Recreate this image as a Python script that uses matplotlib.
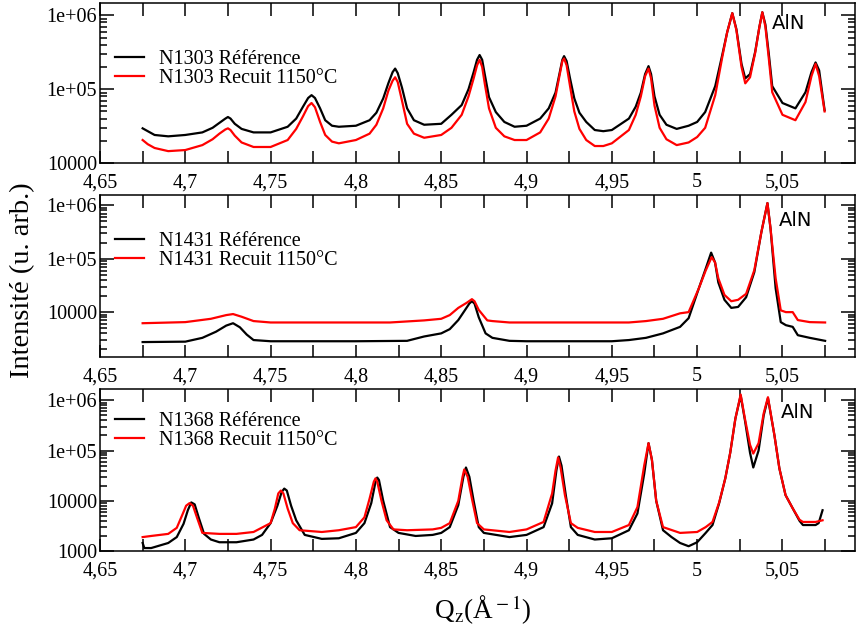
import numpy as np
import matplotlib
matplotlib.use("Agg")
import matplotlib.pyplot as plt
from matplotlib.ticker import FixedLocator, MultipleLocator, FuncFormatter, LogLocator, NullFormatter

plt.rcParams['font.family'] = ['Liberation Serif', 'DejaVu Serif']
plt.rcParams['mathtext.fontset'] = 'stix'

# --- N1303 (top panel) ---
q_1303 = [4.675, 4.678, 4.682, 4.69, 4.70, 4.71, 4.716, 4.72, 4.7235, 4.725, 4.7265, 4.729, 4.733, 4.74, 4.75,
          4.76, 4.765, 4.769, 4.772, 4.774, 4.776, 4.779, 4.782, 4.786, 4.79, 4.80, 4.808, 4.812, 4.816, 4.819,
          4.8215, 4.823, 4.8245, 4.827, 4.83, 4.834, 4.84, 4.85, 4.856, 4.862, 4.866, 4.869, 4.871, 4.8725, 4.874,
          4.8755, 4.878, 4.882, 4.887, 4.893, 4.90, 4.908, 4.913, 4.917, 4.9195, 4.921, 4.922, 4.9235, 4.9255,
          4.928, 4.931, 4.935, 4.94, 4.945, 4.95, 4.96, 4.964, 4.967, 4.9695, 4.9715, 4.973, 4.975, 4.978, 4.982,
          4.988, 4.995, 5.00, 5.0047, 5.0106, 5.0147, 5.0176, 5.0206, 5.023, 5.026, 5.0282, 5.031, 5.034, 5.0365,
          5.0382, 5.040, 5.042, 5.044, 5.05, 5.0576, 5.0635, 5.067, 5.0694, 5.0715, 5.0747]
i_1303_ref = [2.95e4, 2.7e4, 2.4e4, 2.3e4, 2.4e4, 2.6e4, 3.0e4, 3.5e4, 4.0e4, 4.2e4, 4.0e4, 3.4e4, 2.9e4, 2.6e4, 2.6e4,
              3.1e4, 4.0e4, 5.8e4, 7.6e4, 8.3e4, 7.6e4, 5.5e4, 3.8e4, 3.2e4, 3.1e4, 3.2e4, 3.8e4, 4.8e4, 7.5e4, 1.2e5,
              1.7e5, 1.9e5, 1.65e5, 1.05e5, 5.5e4, 3.8e4, 3.3e4, 3.4e4, 4.5e4, 6.1e4, 1.0e5, 1.7e5, 2.5e5, 2.9e5, 2.5e5,
              1.6e5, 7.8e4, 4.9e4, 3.6e4, 3.1e4, 3.2e4, 4.0e4, 5.5e4, 9.0e4, 1.7e5, 2.5e5, 2.8e5, 2.4e5, 1.4e5,
              7.5e4, 4.8e4, 3.6e4, 2.8e4, 2.7e4, 2.8e4, 4.0e4, 5.8e4, 9.0e4, 1.6e5, 2.05e5, 1.6e5, 8.0e4, 4.5e4, 3.3e4,
              2.9e4, 3.2e4, 3.6e4, 4.9e4, 1.1e5, 2.9e5, 5.9e5, 1.07e6, 6.5e5, 2.2e5, 1.4e5, 1.6e5, 3.2e5, 7.0e5,
              1.1e6, 7.5e5, 3.0e5, 1.1e5, 6.5e4, 5.5e4, 9.1e4, 1.7e5, 2.3e5, 1.8e5, 5.2e4]
i_1303_rec = [2.05e4, 1.8e4, 1.6e4, 1.45e4, 1.5e4, 1.75e4, 2.1e4, 2.5e4, 2.85e4, 2.95e4, 2.8e4, 2.35e4, 1.9e4, 1.65e4, 1.65e4,
              2.05e4, 2.9e4, 4.3e4, 5.9e4, 6.5e4, 5.7e4, 3.6e4, 2.4e4, 1.95e4, 1.85e4, 2.05e4, 2.5e4, 3.3e4, 5.5e4, 9.5e4,
              1.3e5, 1.45e5, 1.25e5, 7.0e4, 3.4e4, 2.5e4, 2.2e4, 2.4e4, 3.0e4, 4.5e4, 8.0e4, 1.4e5, 2.1e5, 2.5e5, 2.0e5,
              1.2e5, 5.5e4, 3.0e4, 2.3e4, 2.05e4, 2.05e4, 2.6e4, 4.0e4, 8.0e4, 1.6e5, 2.4e5, 2.6e5, 2.1e5, 1.1e5,
              5.0e4, 2.9e4, 2.05e4, 1.7e4, 1.7e4, 1.85e4, 2.8e4, 4.5e4, 8.0e4, 1.5e5, 1.9e5, 1.4e5, 6.0e4, 3.0e4, 2.1e4,
              1.75e4, 1.9e4, 2.25e4, 3.0e4, 8.3e4, 2.7e5, 5.9e5, 1.07e6, 6.3e5, 2.0e5, 1.2e5, 1.45e5, 3.1e5, 7.0e5,
              1.1e6, 7.0e5, 2.6e5, 9.1e4, 4.5e4, 3.8e4, 6.7e4, 1.5e5, 2.2e5, 1.5e5, 5.0e4]

# --- N1431 (middle panel) ---
q_1431_ref = [4.675, 4.70, 4.71, 4.718, 4.724, 4.728, 4.732, 4.736, 4.74, 4.75, 4.80, 4.83, 4.84, 4.85, 4.855, 4.86,
              4.864, 4.8665, 4.868, 4.8695, 4.872, 4.876, 4.88, 4.89, 4.90, 4.95, 4.96, 4.97, 4.98, 4.99, 4.995,
              5.001, 5.005, 5.0082, 5.0105, 5.0124, 5.016, 5.020, 5.024, 5.0287, 5.0335, 5.0376, 5.0412, 5.043,
              5.046, 5.049, 5.052, 5.056, 5.059, 5.066, 5.075]
i_1431_ref = [2.75e3, 2.8e3, 3.3e3, 4.3e3, 5.6e3, 6.2e3, 5.2e3, 3.8e3, 3.0e3, 2.85e3, 2.85e3, 2.9e3, 3.5e3, 4.0e3, 4.8e3, 7.1e3,
              1.1e4, 1.45e4, 1.6e4, 1.45e4, 8.0e3, 4.0e3, 3.3e3, 2.9e3, 2.85e3, 2.85e3, 3.0e3, 3.3e3, 4.0e3, 5.3e3, 7.7e3,
              2.8e4, 6.5e4, 1.3e5, 8.5e4, 3.6e4, 1.7e4, 1.2e4, 1.25e4, 1.9e4, 5.6e4, 3.1e5, 1.1e6, 3.7e5,
              2.8e4, 6.5e3, 5.7e3, 5.3e3, 3.7e3, 3.3e3, 2.9e3]
q_1431_rec = [4.675, 4.70, 4.715, 4.724, 4.728, 4.733, 4.74, 4.75, 4.82, 4.84, 4.85, 4.855, 4.86, 4.865, 4.868, 4.8695,
              4.872, 4.877, 4.88, 4.89, 4.96, 4.97, 4.98, 4.99, 4.995, 5.001, 5.005, 5.0085, 5.0105, 5.0124, 5.016,
              5.020, 5.024, 5.0287, 5.0335, 5.0376, 5.0412, 5.043, 5.046, 5.049, 5.052, 5.056, 5.059, 5.066, 5.075]
i_1431_rec = [6.2e3, 6.5e3, 7.5e3, 8.8e3, 9.2e3, 8.2e3, 6.8e3, 6.4e3, 6.4e3, 7.0e3, 7.5e3, 8.8e3, 1.2e4, 1.5e4, 1.75e4, 1.6e4,
              1.1e4, 7.0e3, 6.8e3, 6.4e3, 6.4e3, 6.8e3, 7.5e3, 9.5e3, 1.0e4, 2.8e4, 6.0e4, 1.07e5, 8.5e4, 4.3e4, 2.1e4,
              1.6e4, 1.7e4, 2.2e4, 6.1e4, 3.1e5, 1.1e6, 3.7e5, 4.3e4, 1.08e4, 1.0e4, 1.0e4, 7.1e3, 6.5e3, 6.4e3]

# --- N1368 (bottom panel) ---
q_1368_ref = [4.675, 4.676, 4.68, 4.69, 4.695, 4.699, 4.7015, 4.7035, 4.7055, 4.708, 4.711, 4.715, 4.72, 4.73, 4.74,
              4.745, 4.75, 4.754, 4.7565, 4.758, 4.7595, 4.762, 4.765, 4.77, 4.78, 4.79, 4.80, 4.805, 4.809, 4.8115,
              4.8125, 4.8135, 4.816, 4.82, 4.825, 4.835, 4.845, 4.85, 4.855, 4.86, 4.863, 4.8645, 4.8665, 4.869,
              4.872, 4.875, 4.89, 4.90, 4.91, 4.915, 4.9175, 4.919, 4.9205, 4.923, 4.926, 4.93, 4.94, 4.95, 4.96,
              4.965, 4.969, 4.9715, 4.9735, 4.976, 4.98, 4.985, 4.99, 4.995, 5.00, 5.005, 5.009, 5.0129, 5.0165,
              5.0194, 5.0224, 5.0255, 5.028, 5.031, 5.0329, 5.036, 5.039, 5.0415, 5.0453, 5.0482, 5.0518, 5.056,
              5.060, 5.062, 5.0694, 5.0712, 5.0735]
i_1368_ref = [1.45e3, 1.15e3, 1.15e3, 1.45e3, 1.9e3, 3.5e3, 6.5e3, 9.3e3, 8.5e3, 4.5e3, 2.2e3, 1.7e3, 1.5e3, 1.5e3, 1.7e3,
              2.1e3, 3.6e3, 8.0e3, 1.5e4, 1.75e4, 1.6e4, 8.0e3, 4.1e3, 2.1e3, 1.75e3, 1.8e3, 2.3e3, 3.6e3, 9.0e3, 2.4e4,
              2.9e4, 2.6e4, 1.0e4, 3.0e3, 2.3e3, 2.0e3, 2.1e3, 2.3e3, 3.0e3, 8.2e3, 3.0e4, 4.6e4, 3.0e4, 1.0e4,
              3.0e3, 2.3e3, 1.9e3, 2.1e3, 3.0e3, 8.9e3, 4.0e4, 7.6e4, 5.0e4, 1.3e4, 3.0e3, 2.1e3, 1.7e3, 1.8e3, 2.6e3,
              5.6e3, 3.5e4, 1.4e5, 6.5e4, 1.0e4, 2.6e3, 1.9e3, 1.45e3, 1.25e3, 1.5e3, 2.3e3, 3.3e3, 9.0e3, 2.8e4,
              9.1e4, 4.3e5, 1.24e6, 4.0e5, 9.0e4, 4.6e4, 1.0e5, 5.0e5, 1.1e6, 2.0e5, 4.4e4, 1.3e4, 7.1e3,
              4.0e3, 3.3e3, 3.3e3, 3.6e3, 6.5e3]
q_1368_rec = [4.675, 4.68, 4.69, 4.695, 4.6985, 4.7005, 4.7025, 4.7045, 4.707, 4.71, 4.72, 4.73, 4.74, 4.75, 4.7525,
              4.7545, 4.756, 4.7575, 4.76, 4.763, 4.767, 4.78, 4.79, 4.80, 4.805, 4.808, 4.8105, 4.8115, 4.8125, 4.815,
              4.818, 4.822, 4.83, 4.845, 4.85, 4.855, 4.86, 4.8625, 4.8635, 4.8655, 4.868, 4.871, 4.875, 4.89, 4.90,
              4.91, 4.915, 4.917, 4.9185, 4.92, 4.9225, 4.926, 4.93, 4.94, 4.95, 4.96, 4.965, 4.969, 4.9715, 4.9735,
              4.976, 4.98, 4.99, 5.00, 5.005, 5.009, 5.0129, 5.0165, 5.0194, 5.0224, 5.0255, 5.028, 5.031, 5.0329,
              5.036, 5.039, 5.0415, 5.0453, 5.0482, 5.0518, 5.056, 5.060, 5.062, 5.0694, 5.0735]
i_1368_rec = [1.9e3, 2.0e3, 2.2e3, 2.9e3, 5.5e3, 8.0e3, 9.0e3, 8.0e3, 4.5e3, 2.3e3, 2.2e3, 2.2e3, 2.4e3, 3.6e3, 7.0e3,
              1.4e4, 1.6e4, 1.4e4, 7.0e3, 3.6e3, 2.6e3, 2.4e3, 2.6e3, 3.0e3, 4.7e3, 1.1e4, 2.4e4, 2.8e4, 2.4e4, 1.0e4,
              4.1e3, 2.7e3, 2.6e3, 2.7e3, 2.9e3, 3.6e3, 1.0e4, 3.0e4, 4.2e4, 3.0e4, 1.1e4, 3.6e3, 2.7e3, 2.4e3, 2.7e3,
              3.8e3, 1.4e4, 4.0e4, 7.3e4, 4.5e4, 1.3e4, 3.6e3, 2.9e3, 2.4e3, 2.4e3, 3.3e3, 7.5e3, 5.1e4, 1.4e5, 6.5e4,
              1.0e4, 3.0e3, 2.3e3, 2.4e3, 3.0e3, 3.8e3, 9.3e3, 2.8e4, 9.1e4, 4.3e5, 1.3e6, 4.3e5, 1.3e5, 8.7e4,
              1.4e5, 5.5e5, 1.15e6, 2.0e5, 4.4e4, 1.3e4, 7.1e3, 4.2e3, 3.8e3, 3.8e3, 4.1e3]

panels = [
    ('N1303', q_1303, i_1303_ref, q_1303, i_1303_rec, (1e4, 1.46e6),
     [1e4, 1e5, 1e6], ['10000', '1e+05', '1e+06']),
    ('N1431', q_1431_ref, i_1431_ref, q_1431_rec, i_1431_rec, (1.44e3, 1.54e6),
     [1e4, 1e5, 1e6], ['10000', '1e+05', '1e+06']),
    ('N1368', q_1368_ref, i_1368_ref, q_1368_rec, i_1368_rec, (1e3, 1.65e6),
     [1e3, 1e4, 1e5, 1e6], ['1000', '10000', '1e+05', '1e+06']),
]
boxes = [[0.1168, 0.742, 0.882, 0.253],
         [0.1168, 0.435, 0.882, 0.256],
         [0.1168, 0.128, 0.882, 0.256]]
legend_y = [0.706, 0.772, 0.858]
aln_pos = [(0.890, 0.875), (0.899, 0.846), (0.902, 0.858)]

fig = plt.figure(figsize=(8.56, 6.32), dpi=100)
comma = FuncFormatter(lambda v, p: '{:g}'.format(round(v, 3)).replace('.', ','))

for k, ((name, qa, ia, qb, ib, ylim, yt, ylab), box) in enumerate(zip(panels, boxes)):
    ax = fig.add_axes(box)
    ax.plot(qa, ia, color='black', lw=1.6, label=name + ' Référence')
    ax.plot(qb, ib, color='#ff0000', lw=1.6, label=name + ' Recuit 1150°C')
    ax.set_yscale('log')
    ax.set_xlim(4.65, 5.0925)
    ax.set_ylim(*ylim)
    ax.yaxis.set_major_locator(FixedLocator(yt))
    ax.set_yticklabels(ylab)
    ax.yaxis.set_minor_locator(LogLocator(base=10, subs=np.arange(2, 10)))
    ax.yaxis.set_minor_formatter(NullFormatter())
    ax.xaxis.set_major_locator(MultipleLocator(0.05))
    ax.xaxis.set_minor_locator(MultipleLocator(0.025))
    ax.xaxis.set_major_formatter(comma)
    ax.tick_params(which='both', direction='in', top=True, right=True, labelsize=14.5, width=1.1)
    ax.tick_params(axis='x', which='both', length=9, pad=7.5)
    ax.tick_params(axis='y', which='major', length=10, pad=2)
    ax.tick_params(axis='y', which='minor', length=5)
    for s in ax.spines.values():
        s.set_linewidth(1.1)
    ax.legend(loc='upper left', bbox_to_anchor=(0.02, legend_y[k]), frameon=False, fontsize=14.5,
              handlelength=1.45, handletextpad=0.75, labelspacing=0.0, borderaxespad=0, borderpad=0)
    ax.text(aln_pos[k][0], aln_pos[k][1], 'AlN', transform=ax.transAxes, family='DejaVu Sans',
            fontsize=14, ha='left', va='center')

fig.text(0.026, 0.557, 'Intensité (u. arb.)', rotation=90, fontsize=20.5, ha='center', va='center')
fig.text(0.564, 0.035, r'Q$_{\rm z}$(Å$^{\rm -1}$)', fontsize=19.5, ha='center', va='center')

fig.savefig('out.png', dpi=100)
